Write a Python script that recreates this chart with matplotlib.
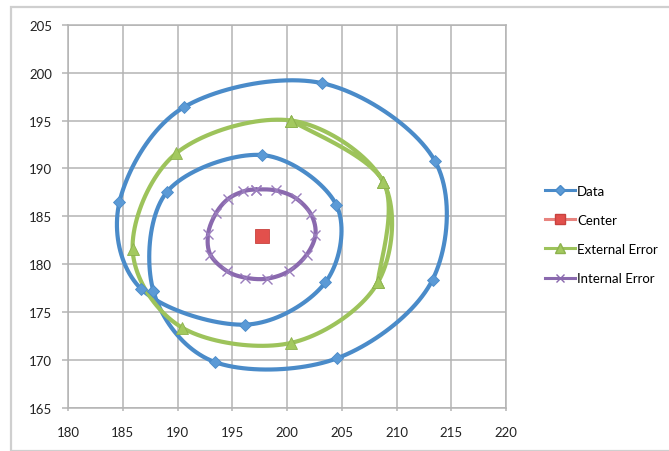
import numpy as np
import matplotlib

matplotlib.use("Agg")
from matplotlib import pyplot as plt
from matplotlib.patches import Rectangle

# Series values (x, y)
data_x = [187.8, 193.4, 204.6, 213.3, 213.5, 203.2, 190.6, 184.7, 186.7,
          196.2, 203.5, 204.5, 197.7, 189.0, 187.8]
data_y = [177.2, 169.8, 170.2, 178.4, 190.8, 198.9, 196.4, 186.5, 177.4,
          173.7, 178.1, 186.2, 191.4, 187.5, 177.2]

center_x = [197.7]
center_y = [183.0]

ext_x = [208.3, 208.8, 200.4, 189.9, 185.9, 190.4, 200.4, 208.3, 208.8, 200.4]
ext_y = [178.1, 188.6, 195.0, 191.6, 181.6, 173.4, 171.8, 178.1, 188.6, 195.0]

int_x = [197.2, 196.0, 194.6, 193.5, 192.8, 193.0, 194.5, 196.2, 198.2,
         200.2, 201.8, 202.6, 202.2, 200.8, 199.0, 197.2]
int_y = [187.8, 187.6, 186.8, 185.3, 183.2, 181.0, 179.3, 178.6, 178.5,
         179.3, 181.0, 183.1, 185.2, 186.9, 187.7, 187.8]

x_ticks = [180, 185, 190, 195, 200, 205, 210, 215, 220]
y_ticks = [165, 170, 175, 180, 185, 190, 195, 200, 205]

series_names = ["Data", "Center", "External Error", "Internal Error"]

FONT = "Lato"
GRID = "#b4b4b4"


def smooth(xs, ys, steps=24):
    # Excel-like smoothed line: Catmull-Rom segments as cubic Bezier curves;
    # a series that ends where it started is treated as a closed curve
    pts = np.column_stack([xs, ys]).astype(float)
    if np.allclose(pts[0], pts[-1]):
        ext = np.vstack([pts[-2], pts, pts[1]])
    else:
        ext = np.vstack([pts[0], pts, pts[-1]])
    out = [pts[0]]
    t = np.linspace(0, 1, steps)[1:, None]
    for i in range(1, len(ext) - 2):
        p0, p1, p2, p3 = ext[i - 1], ext[i], ext[i + 1], ext[i + 2]
        c1 = p1 + (p2 - p0) / 6.0
        c2 = p2 - (p3 - p1) / 6.0
        seg = ((1 - t) ** 3) * p1 + 3 * ((1 - t) ** 2) * t * c1 \
            + 3 * (1 - t) * t ** 2 * c2 + t ** 3 * p2
        out.extend(seg)
    out = np.array(out)
    return out[:, 0], out[:, 1]


fig = plt.figure(figsize=(6.69, 4.52), dpi=100)

# Light chart-area border
fig.patches.append(Rectangle((11 / 669, 0.0), 1.0, 1 - 8 / 452,
                             transform=fig.transFigure, fill=False,
                             edgecolor="#cfcfcf", linewidth=1.6))

ax = fig.add_axes((68 / 669, 43 / 452, 438 / 669, 383.3 / 452))

blue = "#4A8BC9"
green = "#9DC35B"
red = "#E2504C"
purple = "#8A69AE"

sx, sy = smooth(data_x, data_y)
ax.plot(sx, sy, color=blue, linewidth=3.0, solid_capstyle="round", zorder=3)
ax.plot(data_x, data_y, linestyle="none", marker="D", markersize=6.6,
        markerfacecolor="#5B9AD6", markeredgecolor="#4A8BC9",
        markeredgewidth=0.6, zorder=4)

gx, gy = smooth(ext_x, ext_y)
ax.plot(gx, gy, color=green, linewidth=3.0, solid_capstyle="round", zorder=3)
ax.plot(ext_x, ext_y, linestyle="none", marker="^", markersize=9,
        markerfacecolor="#A3C95F", markeredgecolor="#8DB24E",
        markeredgewidth=0.6, zorder=4)

px, py = smooth(int_x, int_y)
ax.plot(px, py, color=purple, linewidth=3.0, solid_capstyle="round", zorder=3)
ax.plot(int_x, int_y, linestyle="none", marker="x", markersize=7,
        markeredgecolor="#9A7DBD", markeredgewidth=1.0, zorder=4)

ax.plot(center_x, center_y, linestyle="none", marker="s", markersize=10,
        markerfacecolor=red, markeredgecolor="#c8423e", markeredgewidth=0.6,
        zorder=5)

ax.set_xlim(180, 220)
ax.set_ylim(165, 205)
ax.set_xticks(x_ticks)
ax.set_yticks(y_ticks)
ax.grid(True, color=GRID, linewidth=1.1)
ax.set_axisbelow(True)
for sp in ax.spines.values():
    sp.set_color(GRID)
    sp.set_linewidth(1.1)
ax.tick_params(axis="y", length=4.5, width=1.1, color=GRID, pad=7,
               labelsize=9.5, labelcolor="#222222")
ax.tick_params(axis="x", length=2, width=1.1, color=GRID, pad=11,
               labelsize=9.5, labelcolor="#222222")
for lab in ax.get_xticklabels() + ax.get_yticklabels():
    lab.set_fontfamily(FONT)

# Legend handles
h_data = plt.Line2D([], [], color=blue, linewidth=2.2, marker="D",
                    markersize=5, markerfacecolor="#5B9AD6",
                    markeredgecolor=blue)
h_center = plt.Line2D([], [], color="#E8847F", linewidth=2.2, marker="s",
                      markersize=6.5, markerfacecolor=red,
                      markeredgecolor="#c8423e")
h_ext = plt.Line2D([], [], color=green, linewidth=2.2, marker="^",
                   markersize=6.5, markerfacecolor="#A3C95F",
                   markeredgecolor="#8DB24E")
h_int = plt.Line2D([], [], color=purple, linewidth=2.2, marker="x",
                   markersize=6, markeredgecolor=purple)
fig.legend([h_data, h_center, h_ext, h_int], series_names,
           loc="center left", bbox_to_anchor=(538 / 669, 1 - 235.5 / 452),
           frameon=False, borderpad=0, handlelength=2.3, handletextpad=0.15,
           labelspacing=1.3, prop={"family": FONT, "size": 9.5})

fig.savefig("out.png", dpi=100)
